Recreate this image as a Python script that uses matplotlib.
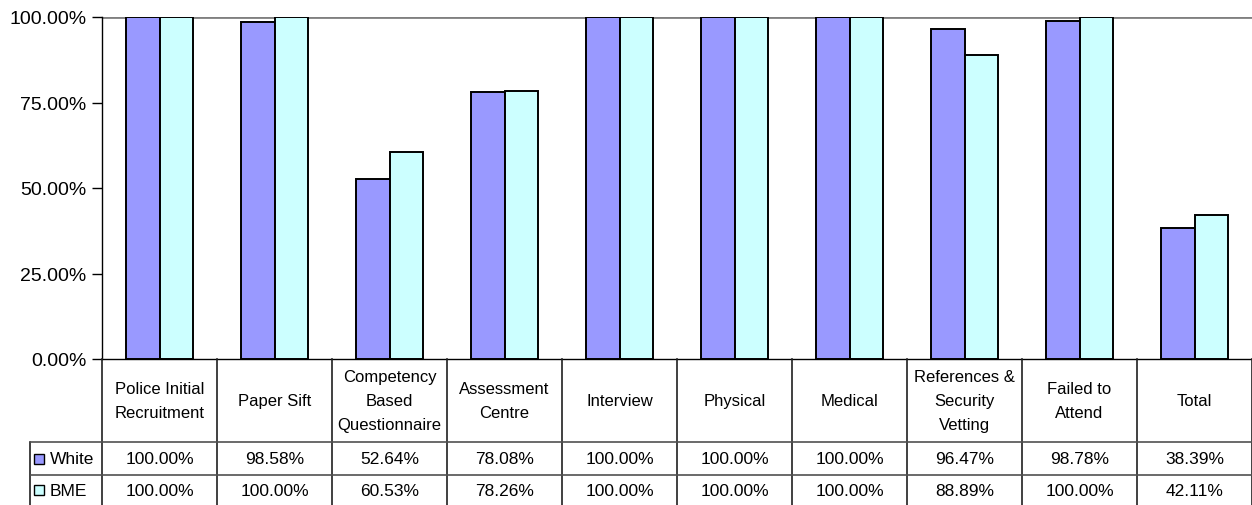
import numpy as np
import matplotlib.pyplot as plt
from matplotlib.patches import Rectangle

plt.rcParams["font.family"] = ["Liberation Sans", "DejaVu Sans"]

# Data
stages = ["Police Initial\nRecruitment", "Paper Sift", "Competency\nBased\nQuestionnaire",
          "Assessment\nCentre", "Interview", "Physical", "Medical",
          "References &\nSecurity\nVetting", "Failed to\nAttend", "Total"]
white = [100.00, 98.58, 52.64, 78.08, 100.00, 100.00, 100.00, 96.47, 98.78, 38.39]
bme = [100.00, 100.00, 60.53, 78.26, 100.00, 100.00, 100.00, 88.89, 100.00, 42.11]
series = ["White", "BME"]
colors = ["#9999FF", "#CCFFFF"]

W, H = 1252, 506
fig = plt.figure(figsize=(W / 100, H / 100), dpi=100)

# Chart area (pixel layout)
x0, x1, ytop, ybot = 102, 1252, 18, 360
ax = fig.add_axes([x0 / W, 1 - ybot / H, (x1 - x0) / W, (ybot - ytop) / H])
x = np.arange(len(stages))
bw = 0.29
ax.bar(x - bw / 2, white, bw, color=colors[0], edgecolor="black", linewidth=1.4)
ax.bar(x + bw / 2, bme, bw, color=colors[1], edgecolor="black", linewidth=1.4)
ax.axhline(100, color="#808080", linewidth=2, zorder=0)
ax.set_xlim(-0.5, len(stages) - 0.5)
ax.set_ylim(0, 100)
ax.set_yticks([0, 25, 50, 75, 100])
ax.set_yticklabels([f"{v:.2f}%" for v in [0, 25, 50, 75, 100]], fontsize=14)
ax.tick_params(axis="y", direction="out", length=7, width=1, pad=4)
ax.set_xticks([])
for s in ["top", "right"]:
    ax.spines[s].set_visible(False)
ax.spines["left"].set_linewidth(1)
ax.spines["bottom"].set_linewidth(1)

# Data table below the chart
leg_w = 72 / 115
tx = fig.add_axes([(x0 - 72) / W, 0, (x1 - x0 + 72) / W, (H - ybot) / H])
tx.set_xlim(-0.5 - leg_w, len(stages) - 0.5)
tx.set_ylim(H, ybot)
tx.axis("off")
r1, r2 = 443, 476
lc = "#202020"
for i in range(len(stages) + 1):
    tx.plot([i - 0.5, i - 0.5], [ybot, H], color=lc, lw=1.2, clip_on=False)
tx.plot([-0.5 - leg_w, -0.5 - leg_w], [r1, H], color=lc, lw=1.2, clip_on=False)
for yy in [r1, r2]:
    tx.plot([-0.5 - leg_w, len(stages) - 0.5], [yy, yy], color="#505050", lw=1.2)

for i, name in enumerate(stages):
    tx.text(i, (ybot + r1) / 2, name, ha="center", va="center", fontsize=12,
            linespacing=1.75)
    tx.text(i, (r1 + r2) / 2, f"{white[i]:.2f}%", ha="center", va="center", fontsize=12.5)
    tx.text(i, (r2 + H) / 2, f"{bme[i]:.2f}%", ha="center", va="center", fontsize=12.5)

for k, (lab, c) in enumerate(zip(series, colors)):
    yc = (r1 + r2) / 2 if k == 0 else (r2 + H) / 2
    kx = -0.5 - leg_w + 4 / 115
    tx.add_patch(Rectangle((kx, yc - 5), 10 / 115, 10, facecolor=c,
                           edgecolor="black", lw=1))
    tx.text(kx + 16 / 115, yc, lab, ha="left", va="center", fontsize=12.5)

fig.savefig("out.png", dpi=100)
